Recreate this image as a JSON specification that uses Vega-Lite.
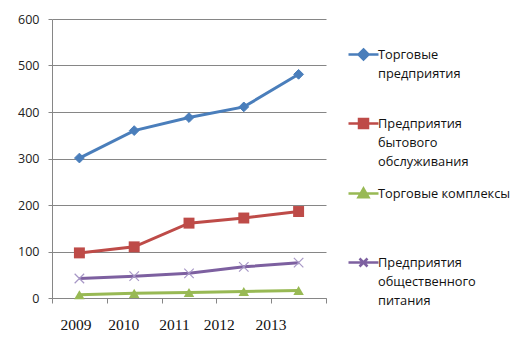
{
  "$schema": "https://vega.github.io/schema/vega-lite/v6.json",
  "width": 274,
  "height": 279,
  "autosize": "none",
  "padding": {"left": 52, "top": 19, "right": 199, "bottom": 53},
  "background": "white",
  "config": {
    "view": {"stroke": null},
    "style": {"guide-label": {"lineHeight": 19}},
    "legend": {
      "orient": "none",
      "legendX": 305,
      "legendY": 29,
      "title": null,
      "symbolSize": 100,
      "symbolStrokeWidth": 2.5,
      "symbolOpacity": 1,
      "symbolFillColor": "transparent",
      "labelFont": "Open Sans",
      "labelFontSize": 12.8,
      "labelColor": "#111",
      "labelOffset": 8,
      "labelLimit": 300,
      "rowPadding": 14
    }
  },
  "data": {
    "values": [
      {"series": "Торговые предприятия", "year": "2009", "value": 301},
      {"series": "Торговые предприятия", "year": "2010", "value": 360},
      {"series": "Торговые предприятия", "year": "2011", "value": 388},
      {"series": "Торговые предприятия", "year": "2012", "value": 411},
      {"series": "Торговые предприятия", "year": "2013", "value": 481},
      {"series": "Предприятия бытового обслуживания", "year": "2009", "value": 97},
      {"series": "Предприятия бытового обслуживания", "year": "2010", "value": 110},
      {"series": "Предприятия бытового обслуживания", "year": "2011", "value": 161},
      {"series": "Предприятия бытового обслуживания", "year": "2012", "value": 172},
      {"series": "Предприятия бытового обслуживания", "year": "2013", "value": 186},
      {"series": "Торговые комплексы", "year": "2009", "value": 7},
      {"series": "Торговые комплексы", "year": "2010", "value": 10},
      {"series": "Торговые комплексы", "year": "2011", "value": 12},
      {"series": "Торговые комплексы", "year": "2012", "value": 14},
      {"series": "Торговые комплексы", "year": "2013", "value": 16},
      {"series": "Предприятия общественного питания", "year": "2009", "value": 42},
      {"series": "Предприятия общественного питания", "year": "2010", "value": 47},
      {"series": "Предприятия общественного питания", "year": "2011", "value": 53},
      {"series": "Предприятия общественного питания", "year": "2012", "value": 67},
      {"series": "Предприятия общественного питания", "year": "2013", "value": 76}
    ]
  },
  "encoding": {
    "x": {
      "field": "year",
      "type": "ordinal",
      "scale": {"type": "band", "paddingInner": 0, "paddingOuter": 0},
      "axis": {
        "title": null,
        "labelAngle": 0,
        "tickBand": "extent",
        "tickSize": 5,
        "tickColor": "#868686",
        "domainColor": "#868686",
        "labelFont": "Liberation Serif",
        "labelFontSize": 15.5,
        "labelColor": "#111",
        "labelPadding": 14,
        "labelOffset": {
          "condition": [
            {"test": "datum.value == '2009'", "value": -4},
            {"test": "datum.value == '2010'", "value": -11},
            {"test": "datum.value == '2011'", "value": -15},
            {"test": "datum.value == '2012'", "value": -25}
          ],
          "value": -28
        }
      }
    },
    "y": {
      "field": "value",
      "type": "quantitative",
      "scale": {"domain": [0, 600]},
      "axis": {
        "title": null,
        "values": [0, 100, 200, 300, 400, 500, 600],
        "grid": true,
        "gridColor": "#868686",
        "domainColor": "#868686",
        "tickColor": "#868686",
        "tickSize": 4,
        "labelFont": "Open Sans",
        "labelFontSize": 12.5,
        "labelColor": "#222",
        "labelPadding": 9
      }
    }
  },
  "layer": [
    {
      "mark": {"type": "point", "filled": false, "size": 0, "opacity": 1, "strokeWidth": 2.5},
      "encoding": {
        "color": {
          "field": "series",
          "type": "nominal",
          "scale": {
            "domain": ["Торговые предприятия", "Предприятия бытового обслуживания", "Торговые комплексы", "Предприятия общественного питания"],
            "range": ["#4A7EBB", "#BE4B48", "#98B954", "#7D60A0"]
          },
          "legend": {
            "labelExpr": "datum.label == 'Торговые предприятия' ? ['Торговые','предприятия',''] : datum.label == 'Предприятия бытового обслуживания' ? ['Предприятия','бытового','обслуживания'] : datum.label == 'Торговые комплексы' ? ['Торговые комплексы','',''] : ['Предприятия','общественного','питания']"
          }
        },
        "shape": {
          "field": "series",
          "type": "nominal",
          "scale": {
            "domain": ["Торговые предприятия", "Предприятия бытового обслуживания", "Торговые комплексы", "Предприятия общественного питания"],
            "range": [
              "M-3,0L3,0M0,-1L1,0L0,1L-1,0ZM0,-0.5L0.5,0L0,0.5L-0.5,0Z",
              "M-3,0L3,0M-0.9,-0.9L0.9,-0.9L0.9,0.9L-0.9,0.9ZM-0.45,-0.45L0.45,-0.45L0.45,0.45L-0.45,0.45Z",
              "M-3,0L3,0M0,-1L1,0.75L-1,0.75ZM0,-0.35L0.4,0.4L-0.4,0.4Z",
              "M-3,0L3,0M-0.8,-0.8L0.8,0.8M0.8,-0.8L-0.8,0.8"
            ]
          },
          "legend": {
            "labelExpr": "datum.label == 'Торговые предприятия' ? ['Торговые','предприятия',''] : datum.label == 'Предприятия бытового обслуживания' ? ['Предприятия','бытового','обслуживания'] : datum.label == 'Торговые комплексы' ? ['Торговые комплексы','',''] : ['Предприятия','общественного','питания']"
          }
        }
      }
    },
    {
      "mark": {"type": "line", "strokeWidth": 3},
      "encoding": {
        "color": {
          "field": "series",
          "type": "nominal",
          "legend": {
            "labelExpr": "datum.label == 'Торговые предприятия' ? ['Торговые','предприятия',''] : datum.label == 'Предприятия бытового обслуживания' ? ['Предприятия','бытового','обслуживания'] : datum.label == 'Торговые комплексы' ? ['Торговые комплексы','',''] : ['Предприятия','общественного','питания']"
          }
        }
      }
    },
    {
      "transform": [{"filter": "datum.series == 'Торговые предприятия'"}],
      "mark": {"type": "point", "filled": true, "size": 95, "shape": "diamond", "opacity": 1, "color": "#4A7EBB", "stroke": "#4A7EBB", "strokeWidth": 1}
    },
    {
      "transform": [{"filter": "datum.series == 'Предприятия бытового обслуживания'"}],
      "mark": {"type": "point", "filled": true, "size": 120, "shape": "square", "opacity": 1, "color": "#BE4B48"}
    },
    {
      "transform": [{"filter": "datum.series == 'Торговые комплексы'"}],
      "mark": {"type": "point", "filled": true, "size": 110, "shape": "triangle-up", "opacity": 1, "color": "#98B954"}
    },
    {
      "transform": [{"filter": "datum.series == 'Предприятия общественного питания'"}],
      "mark": {"type": "point", "filled": false, "size": 90, "shape": "M-1,-1L1,1M1,-1L-1,1", "opacity": 1, "stroke": "#A797C6", "strokeWidth": 1.2}
    }
  ]
}
